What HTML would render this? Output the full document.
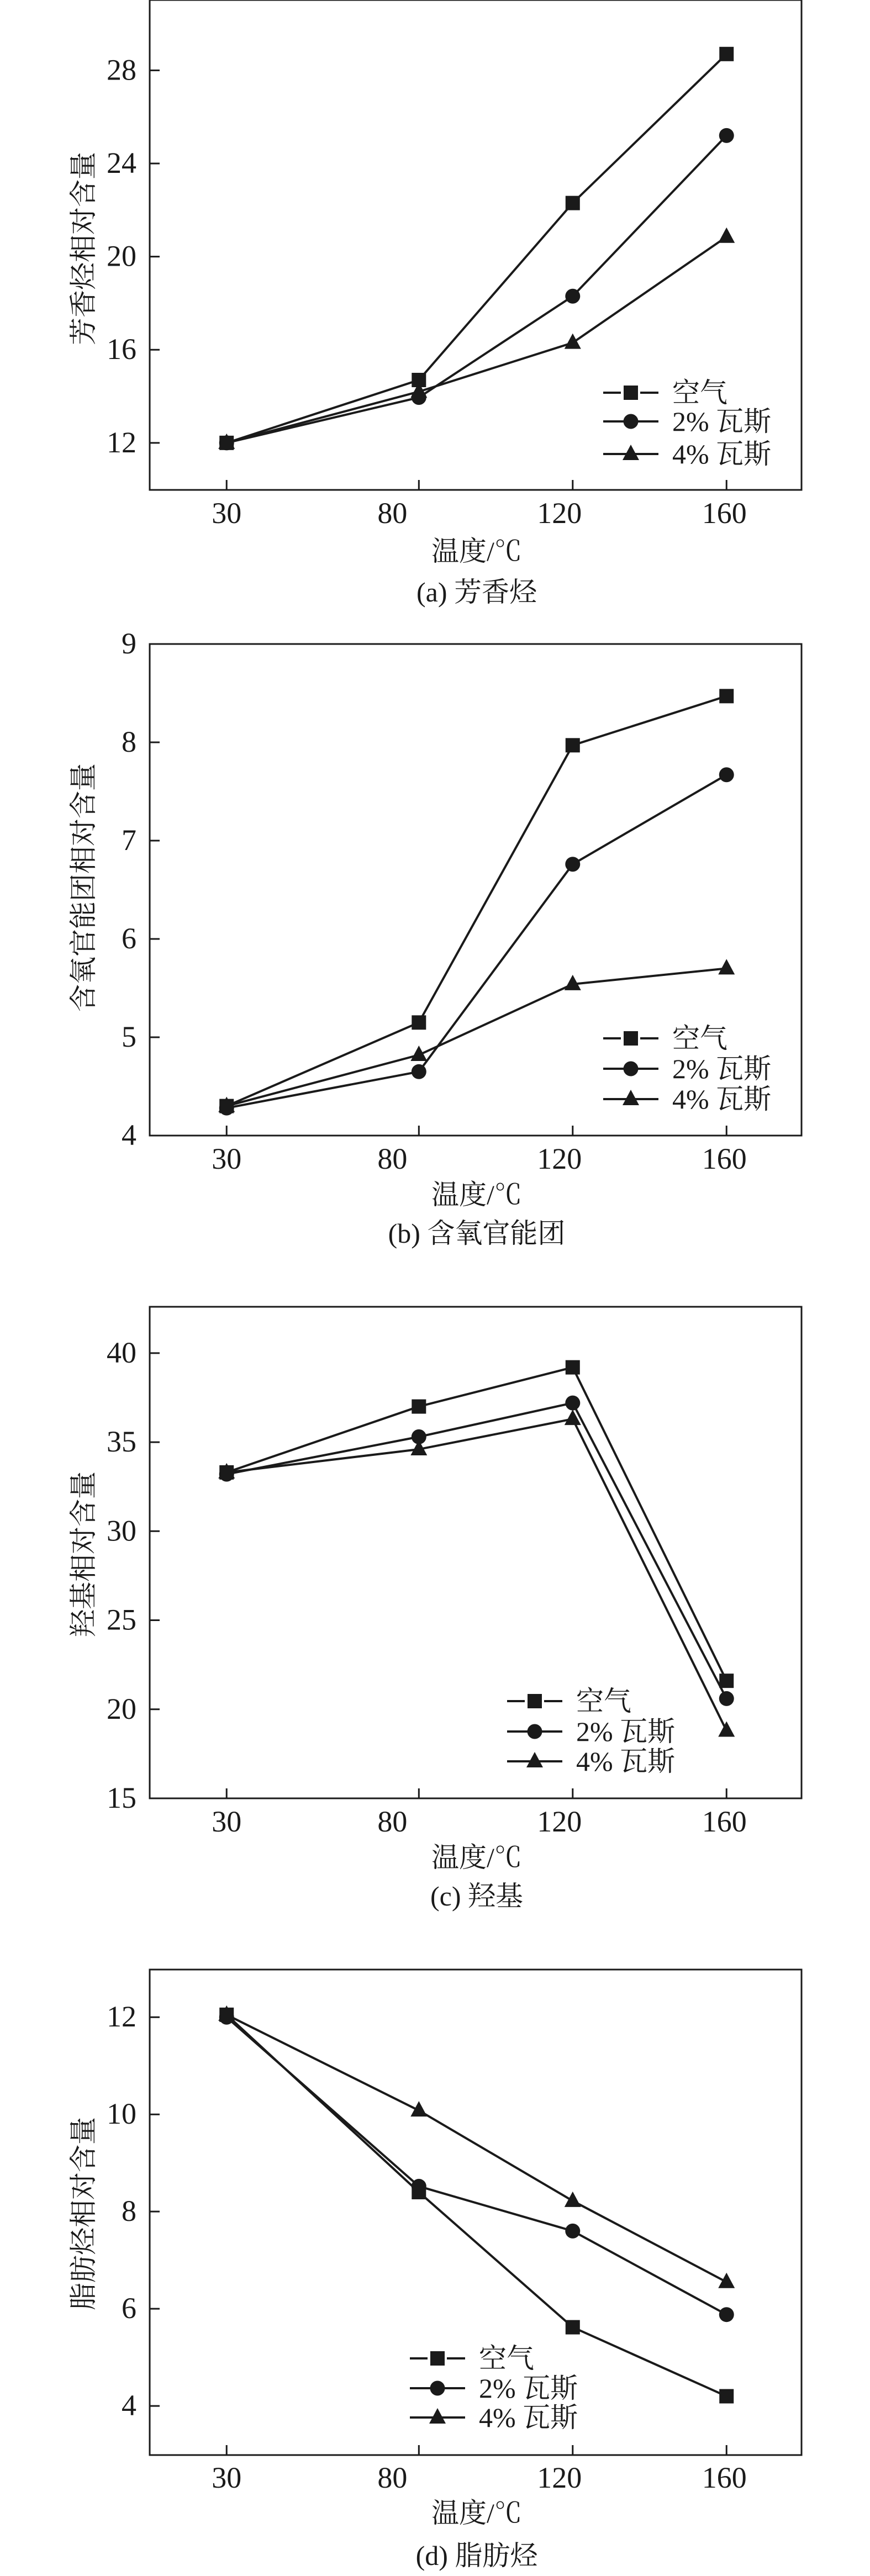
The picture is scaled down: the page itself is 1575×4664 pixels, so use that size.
<!DOCTYPE html>
<html><head><meta charset="utf-8">
<style>
html,body{margin:0;padding:0;background:#fff;}
svg{display:block;}
text{font-family:"Liberation Serif","Noto Serif CJK SC","Noto Sans CJK SC",serif;fill:#1a1a1a;}
</style></head>
<body>
<svg id="fig" width="1575" height="4664" viewBox="0 0 1575 4664" xmlns="http://www.w3.org/2000/svg"></svg>
<script>
const categories = [30, 80, 120, 160];
const seriesNames = ["空气", "2% 瓦斯", "4% 瓦斯"];
const aAir = [12, 14.7, 22.3, 28.7];
const a2 = [12, 13.95, 18.3, 25.2];
const a4 = [12, 14.2, 16.3, 20.85];
const bAir = [4.3, 5.15, 7.97, 8.47];
const b2 = [4.28, 4.65, 6.76, 7.67];
const b4 = [4.3, 4.82, 5.54, 5.7];
const cAir = [33.3, 37.0, 39.2, 21.6];
const c2 = [33.2, 35.3, 37.2, 20.6];
const c4 = [33.3, 34.6, 36.3, 18.8];
const dAir = [12.05, 8.4, 5.62, 4.2];
const d2 = [12.0, 8.52, 7.6, 5.88];
const d4 = [12.05, 10.08, 8.22, 6.55];
const aTicks = [12, 16, 20, 24, 28];
const bTicks = [4, 5, 6, 7, 8, 9];
const cTicks = [15, 20, 25, 30, 35, 40];
const dTicks = [4, 6, 8, 10, 12];

const NS = "http://www.w3.org/2000/svg";
const svg = document.getElementById('fig');
function mk(tag, attrs, parent){
  const e = document.createElementNS(NS, tag);
  for (const k in attrs) e.setAttribute(k, attrs[k]);
  (parent || svg).appendChild(e);
  return e;
}
const L = 271, R = 1451, X0 = 10, X1 = 179.5;
function xs(v){ return L + (v - X0) / (X1 - X0) * (R - L); }
const xLabelOffset = {30: 0, 80: -48, 120: -24, 160: -4};

function marker(g, type, x, y){
  let m;
  if (type === 0) m = mk('rect', {x: x - 13, y: y - 13, width: 26, height: 26, fill: '#1a1a1a'}, g);
  else if (type === 1) m = mk('circle', {cx: x, cy: y, r: 13.5, fill: '#1a1a1a'}, g);
  else m = mk('polygon', {points: `${x},${y - 17} ${x - 15},${y + 11} ${x + 15},${y + 11}`, fill: '#1a1a1a'}, g);
  return m;
}

function panel(p){
  const g = mk('g', {});
  
  
  const ys = v => p.bot - (v - p.ymin) / (p.ymax - p.ymin) * (p.bot - p.top);
  const frame = mk('rect', {x: L, y: p.top, width: R - L, height: p.bot - p.top, fill: 'none', stroke: '#1a1a1a', 'stroke-width': 3}, g);
  
  
  p.ticks.forEach(t => {
    const y = ys(t);
    mk('line', {x1: L, x2: L + 18, y1: y, y2: y, stroke: '#1a1a1a', 'stroke-width': 3}, g);
    const tx = mk('text', {x: 247, y: y + 17, 'text-anchor': 'end', 'font-size': 54}, g);
    tx.textContent = t;
    
    
  });
  categories.forEach(c => {
    const x = xs(c);
    mk('line', {x1: x, x2: x, y1: p.bot, y2: p.bot - 18, stroke: '#1a1a1a', 'stroke-width': 3}, g);
    const tx = mk('text', {x: x + xLabelOffset[c], y: p.tickY + 17, 'text-anchor': 'middle', 'font-size': 54}, g);
    tx.textContent = c;
    
    
  });
  p.series.forEach((s, si) => {
    const sg = mk('g', {}, g);
    
    
    const pts = s.map((v, i) => xs(categories[i]) + ',' + ys(v)).join(' ');
    mk('polyline', {points: pts, fill: 'none', stroke: '#1a1a1a', 'stroke-width': 4}, sg);
    s.forEach((v, i) => {
      const m = marker(sg, si, xs(categories[i]), ys(v));
      
      
    });
  });
  const lg = mk('g', {}, g);
  
  
  seriesNames.forEach((n, i) => {
    const y = p.legY[i];
    const e = mk('g', {}, lg);
    
    
    if (i === 0) {
      mk('line', {x1: p.legX, x2: p.legX + 32, y1: y, y2: y, stroke: '#1a1a1a', 'stroke-width': 4}, e);
      mk('line', {x1: p.legX + 67, x2: p.legX + 100, y1: y, y2: y, stroke: '#1a1a1a', 'stroke-width': 4}, e);
    } else {
      mk('line', {x1: p.legX, x2: p.legX + 100, y1: y, y2: y, stroke: '#1a1a1a', 'stroke-width': 4}, e);
    }
    marker(e, i, p.legX + 50, y);
    const t = mk('text', {x: p.legX + 125, y: y + 17, 'font-size': 50}, e);
    t.textContent = n;
  });
  const yl = mk('text', {x: 0, y: 0, 'text-anchor': 'middle', 'font-size': 50, transform: `translate(168,${p.yLabY}) rotate(-90)`}, g);
  yl.textContent = p.yLabel;
  
  
  const xl = mk('text', {x: 863, y: p.xLabY + 17, 'text-anchor': 'middle', 'font-size': 50}, g);
  xl.textContent = '温度/℃';
  
  
  const ti = mk('text', {x: 863, y: p.titleY + 17, 'text-anchor': 'middle', 'font-size': 50}, g);
  ti.textContent = p.title;
  
  
}

panel({id: 'aromatic', top: 0, bot: 887, ymin: 9.98, ymax: 31.02, ticks: aTicks, series: [aAir, a2, a4],
  tickY: 930, xLabY: 998, titleY: 1072, yLabY: 450, yLabel: '芳香烃相对含量', title: '(a) 芳香烃',
  legX: 1092, legY: [711, 763, 822]});
panel({id: 'oxygen', top: 1166, bot: 2056, ymin: 4, ymax: 9, ticks: bTicks, series: [bAir, b2, b4],
  tickY: 2099, xLabY: 2163, titleY: 2233, yLabY: 1607, yLabel: '含氧官能团相对含量', title: '(b) 含氧官能团',
  legX: 1092, legY: [1880, 1935, 1990]});
panel({id: 'hydroxyl', top: 2366, bot: 3256, ymin: 15, ymax: 42.6, ticks: cTicks, series: [cAir, c2, c4],
  tickY: 3299, xLabY: 3363, titleY: 3433, yLabY: 2814, yLabel: '羟基相对含量', title: '(c) 羟基',
  legX: 918, legY: [3080, 3135, 3189]});
panel({id: 'aliphatic', top: 3566, bot: 4445, ymin: 2.99, ymax: 12.98, ticks: dTicks, series: [dAir, d2, d4],
  tickY: 4487, xLabY: 4550, titleY: 4627, yLabY: 4008, yLabel: '脂肪烃相对含量', title: '(d) 脂肪烃',
  legX: 742, legY: [4270, 4324, 4377]});
</script>
</body></html>
